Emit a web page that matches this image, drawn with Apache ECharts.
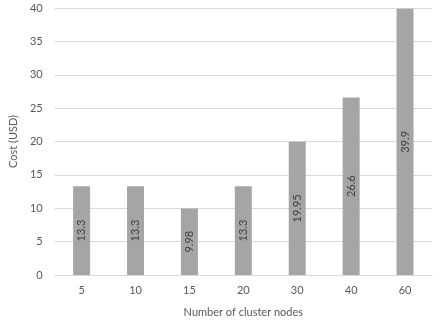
<!DOCTYPE html>
<html>
<head>
<meta charset="utf-8">
<script src="https://cdn.jsdelivr.net/npm/echarts@6/dist/echarts.min.js"></script>
<style>
  html, body { margin: 0; padding: 0; background: #fff; }
  #chart { width: 440px; height: 327px; }
</style>
</head>
<body>
<div id="chart"></div>
<script>
// Cluster size vs. cost
const nodeCounts = ['5', '10', '15', '20', '30', '40', '60'];
const costUSD = [13.3, 13.3, 9.98, 13.3, 19.95, 26.6, 39.9];
const costLabels = ['13.3', '13.3', '9.98', '13.3', '19.95', '26.6', '39.9'];

const FONT = 'Lato, "Open Sans", sans-serif';

const chart = echarts.init(document.getElementById('chart'), null, { renderer: 'canvas' });
chart.setOption({
  animation: false,
  grid: { left: 52, right: 8, top: 8, bottom: 52 },
  xAxis: {
    type: 'category',
    data: nodeCounts,
    name: 'Number of cluster nodes',
    nameLocation: 'middle',
    nameGap: 32,
    nameTextStyle: { color: '#595959', fontSize: 11, fontFamily: FONT },
    axisLine: { lineStyle: { color: '#d9d9d9' } },
    axisTick: { show: false },
    axisLabel: { color: '#595959', fontSize: 11, fontFamily: FONT, margin: 10 }
  },
  yAxis: {
    type: 'value',
    min: 0,
    max: 40,
    interval: 5,
    name: 'Cost (USD)',
    nameLocation: 'middle',
    nameGap: 30,
    nameTextStyle: { color: '#595959', fontSize: 11, fontFamily: FONT },
    axisLine: { show: false },
    axisTick: { show: false },
    axisLabel: { color: '#595959', fontSize: 11, fontFamily: FONT, margin: 12 },
    splitLine: { lineStyle: { color: '#d9d9d9' } }
  },
  series: [{
    type: 'bar',
    data: costUSD,
    barWidth: 17,
    itemStyle: { color: '#a5a5a5' },
    label: {
      show: true,
      position: 'inside',
      rotate: 90,
      color: '#404040',
      fontSize: 11,
      fontFamily: FONT,
      formatter: p => costLabels[p.dataIndex]
    }
  }]
});
</script>
</body>
</html>
